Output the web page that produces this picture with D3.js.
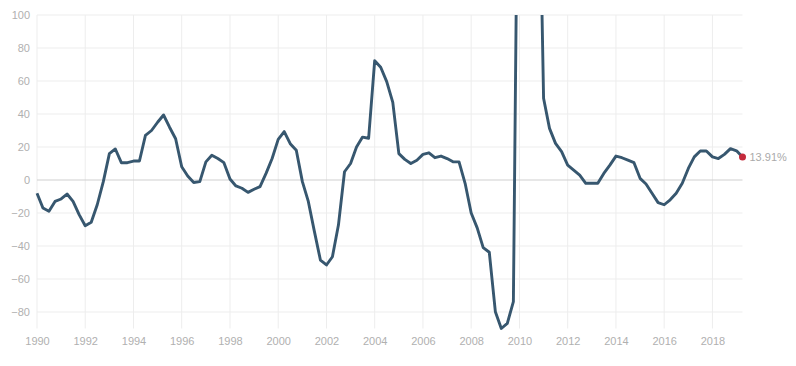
<!DOCTYPE html>
<html>
<head>
<meta charset="utf-8">
<script src="https://cdn.jsdelivr.net/npm/d3@7"></script>
<style>
  body { margin: 0; background: #fff; }
  text { font-family: "Liberation Sans", Arial, sans-serif; }
</style>
</head>
<body>
<div id="chart"></div>
<script>
(() => {
  const startYear = 1990;
  // quarterly values, 1990 Q1 .. 2019 Q2 (%)
  const values = [
    -8, -17, -19, -13, -11.5, -8.5, -13, -21, -27.7, -25.6,
    -15, -1, 16, 18.8, 10.5, 10.5, 11.5, 11.5, 27, 30,
    35, 39.4, 32, 25, 8, 2.4, -1.5, -1, 11, 15,
    13, 10.5, 0.6, -3.6, -5, -7.5, -5.6, -4, 4, 13,
    24.6, 29.3, 22, 18, -1, -13, -31, -48.5, -51.5, -46.5,
    -27.3, 5, 10, 20, 26, 25.3, 72.3, 68.3, 59.6, 47,
    16, 12.5, 10, 12, 15.5, 16.5, 13.5, 14.5, 13, 11,
    11, -2, -20, -29, -41, -43.8, -79.8, -90, -86.9, -73.7,
    310, 420, 380, 250, 49.5, 31.3, 22.2, 17.2, 9, 6,
    3, -2, -2, -2, 4, 9, 14.5, 13.5, 12, 10.5,
    1, -2.4, -8, -13.7, -15, -12, -8, -2, 7, 14,
    17.6, 17.6, 14, 13, 15.5, 19, 17.7, 13.91
  ];
  const yTicks = [-80, -60, -40, -20, 0, 20, 40, 60, 80, 100];
  const lastLabel = '13.91%';

  const data = values.map((v, i) => ({ date: new Date(startYear, i * 3, 1), value: v }));

  const W = 796, H = 366;
  const margin = { top: 15, right: 53.5, bottom: 37.5, left: 37 };
  const width = W - margin.left - margin.right;
  const height = H - margin.top - margin.bottom;

  const svg = d3.select('#chart')
    .append('svg')
    .attr('width', W)
    .attr('height', H)
    .append('g')
    .attr('transform', `translate(${margin.left}, ${margin.top})`);

  const xScale = d3.scaleTime()
    .domain(d3.extent(data, d => d.date))
    .range([0, width]);

  const yScale = d3.scaleLinear()
    .domain([-90, 100])
    .range([height, 0]);

  // grid
  const xTicks = xScale.ticks(d3.timeYear.every(2));

  svg.append('g')
    .selectAll('line')
    .data(xTicks)
    .join('line')
    .attr('x1', d => xScale(d)).attr('x2', d => xScale(d))
    .attr('y1', 0).attr('y2', height)
    .attr('stroke', '#ededed')
    .attr('stroke-width', 1);

  svg.append('g')
    .selectAll('line')
    .data(yTicks)
    .join('line')
    .attr('x1', 0).attr('x2', width)
    .attr('y1', d => yScale(d)).attr('y2', d => yScale(d))
    .attr('stroke', d => d === 0 ? '#cfcfcf' : '#ededed')
    .attr('stroke-width', 1);

  // axes
  const yAxis = d3.axisLeft(yScale).tickValues(yTicks).tickSize(0).tickPadding(7);
  svg.append('g')
    .attr('class', 'yAxis')
    .call(yAxis)
    .call(g => g.select('.domain').remove())
    .selectAll('text')
    .attr('fill', '#b0b0b0')
    .style('font-size', '11px');

  const xAxis = d3.axisBottom(xScale).tickValues(xTicks).tickFormat(d3.timeFormat('%Y')).tickSize(0).tickPadding(9);
  svg.append('g')
    .attr('class', 'xAxis')
    .attr('transform', `translate(0, ${height})`)
    .call(xAxis)
    .call(g => g.select('.domain').remove())
    .selectAll('text')
    .attr('fill', '#b0b0b0')
    .style('font-size', '11px');

  // line, clipped to the plot area
  svg.append('clipPath')
    .attr('id', 'plotClip')
    .append('rect')
    .attr('x', -2).attr('y', 0)
    .attr('width', width + 4).attr('height', height + 4);

  const line = d3.line()
    .x(d => xScale(d.date))
    .y(d => yScale(d.value));

  svg.append('path')
    .datum(data)
    .attr('clip-path', 'url(#plotClip)')
    .attr('fill', 'none')
    .attr('stroke', '#37576f')
    .attr('stroke-width', 2.9)
    .attr('stroke-linejoin', 'round')
    .attr('d', line);

  // last value marker
  const last = data[data.length - 1];
  svg.append('circle')
    .attr('cx', xScale(last.date))
    .attr('cy', yScale(last.value))
    .attr('r', 3.5)
    .attr('fill', '#c42a3c');

  svg.append('text')
    .attr('x', xScale(last.date) + 7)
    .attr('y', yScale(last.value))
    .attr('dy', '0.35em')
    .attr('fill', '#aaa')
    .style('font-size', '11px')
    .text(lastLabel);
})()
</script>
</body>
</html>
